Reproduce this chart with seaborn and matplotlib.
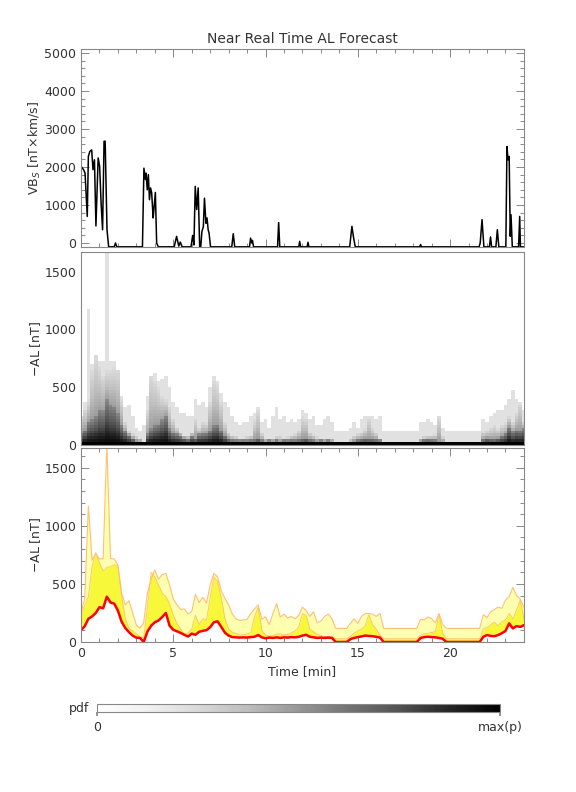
import numpy as np
import pandas as pd
import matplotlib
matplotlib.use("Agg")
import matplotlib.pyplot as plt
import seaborn as sns
from matplotlib.ticker import MultipleLocator, FixedLocator

# ---- panel 1: VBs solar wind driver (clipped at the bottom of the axis) ----
vbs_time = [0.0, 0.14, 0.22, 0.34, 0.40, 0.48, 0.58, 0.65, 0.73, 0.81, 0.93, 1.01,
            1.09, 1.17, 1.25, 1.31, 1.41, 1.50, 1.80, 1.87, 1.94,
            3.33, 3.41, 3.49, 3.53, 3.59, 3.65, 3.71, 3.77, 3.83, 3.91, 3.95, 4.03, 4.10, 4.19,
            5.05, 5.18, 5.30, 5.38, 5.48,
            5.96, 6.05, 6.12, 6.19, 6.27, 6.35, 6.43,
            6.49, 6.55, 6.63, 6.69, 6.77, 6.83, 6.89, 6.94, 7.02,
            8.17, 8.25, 8.33, 9.13, 9.19, 9.25, 9.29, 9.35,
            10.65, 10.71, 10.77, 11.80, 11.85, 11.90, 12.25, 12.30, 12.35,
            14.56, 14.68, 14.76, 14.86, 18.35, 18.40, 18.45,
            21.57, 21.63, 21.73, 21.83, 22.13, 22.19, 22.25, 22.48, 22.56, 22.64,
            23.02, 23.08, 23.14, 23.20, 23.26, 23.30, 23.37, 23.71, 23.77, 23.81, 24.0]
vbs_value = [2020, 1930, 1840, 700, 2280, 2410, 2450, 1930, 2190, 450, 2240, 2020,
             1050, 350, 2680, 2680, 350, -100, -100, 0, -100,
             -100, 1970, 1670, 1840, 1400, 1800, 1140, 1450, 1320, 660, 880, 1330, 0, -100,
             -100, 175, -80, 25, -100,
             -100, 200, -50, 1490, 880, 1450, -100,
             -100, 300, 430, 1180, 520, 660, 350, 260, -100,
             -100, 245, -100, -100, 130, 0, 70, -100,
             -100, 540, -100, -100, 45, -100, -100, 20, -100,
             -100, 440, 170, -100, -100, -40, -100,
             -100, 0, 615, -100, -100, 160, -100, -100, 350, -100,
             -100, 2540, 2190, 2280, 175, 745, -100, -100, 700, -100, -100]

# ---- panels 2/3: ensemble forecast of -AL, one value every 0.2 min ----
time = np.round(np.arange(121) * 0.2, 1)
al_red = [103, 135, 200, 220, 250, 300, 290, 390, 340, 330, 270, 175, 120, 85, 55, 37, 35, 0,
          90, 140, 170, 185, 215, 250, 140, 105, 92, 78, 62, 47, 72, 62, 88, 96, 102, 128,
          170, 178, 130, 80, 55, 42, 40, 38, 40, 38, 42, 45, 60, 40, 32, 38, 35, 40, 35, 40,
          38, 42, 40, 45, 55, 62, 45, 40, 35, 38, 35, 38, 35, 0, 0, 0, 0, 25, 35, 42, 48,
          55, 52, 50, 45, 38, 0, 0, 0, 0, 0, 0, 0, 0, 0, 0, 35, 42, 45, 42, 40, 35, 28,
          0, 0, 0, 0, 0, 0, 0, 0, 0, 0, 45, 60, 52, 50, 60, 75, 95, 160, 117, 137, 130, 145]
al_q75 = [250, 310, 390, 650, 770, 680, 610, 640, 650, 665, 655, 400, 200, 120, 95, 70, 45, 35,
          300, 600, 560, 490, 420, 390, 330, 230, 160, 110, 65, 80, 110, 230, 150, 200, 190, 380,
          560, 520, 380, 200, 110, 85, 72, 62, 62, 70, 80, 217, 300, 100, 58, 52, 55, 70, 70, 62,
          65, 80, 95, 130, 245, 230, 110, 88, 65, 55, 48, 45, 45, 28, 28, 28, 28, 50, 75, 95, 110,
          140, 235, 150, 110, 60, 28, 28, 28, 28, 28, 28, 28, 28, 28, 28, 60, 70, 75, 82, 90, 240, 70,
          28, 28, 28, 28, 28, 28, 28, 28, 28, 28, 115, 125, 150, 170, 140, 175, 190, 245, 200, 275, 360, 200]
al_qhi = [260, 370, 1170, 705, 760, 715, 717, 1700, 717, 715, 660, 420, 320, 355, 250, 145, 120, 170,
          420, 540, 620, 540, 580, 590, 490, 370, 320, 280, 285, 240, 260, 410, 340, 385, 335, 490,
          590, 560, 440, 375, 320, 240, 200, 185, 190, 195, 245, 285, 320, 195, 217, 150, 245, 330, 215, 240,
          205, 220, 200, 230, 300, 270, 220, 260, 165, 180, 220, 240, 200, 117, 117, 117, 117, 160, 200, 160, 220,
          245, 245, 240, 220, 245, 117, 117, 117, 117, 117, 117, 117, 117, 117, 117, 195, 190, 215, 200, 165, 245, 150,
          117, 117, 117, 117, 117, 117, 117, 117, 117, 117, 235, 210, 260, 280, 300, 290, 360, 390, 470, 400, 370, 300]

red = np.array(al_red, float)
q75 = np.array(al_q75, float)
qhi = np.array(al_qhi, float)

# pdf image shaded from the ensemble bands (25 nT bins): darkest near the
# ground, fading through the inner band, faint in the outer band
dbin = 25
edges = np.arange(0, 1700, dbin)
c = (edges[:-1] + dbin / 2)[:, None]
r, m, h = red[None, :], q75[None, :], qhi[None, :]
pdf = np.where(c < r, 1.0 - 0.45 * c / np.maximum(r, 1), 0.0)
pdf = np.where((c >= r) & (c < m), 0.48 - 0.24 * (c - r) / np.maximum(m - r, 1), pdf)
pdf = np.where((c >= m) & (c < h), 0.21, pdf)
pdf[0, :] = 1.0
pdf_df = pd.DataFrame(pdf, index=edges[:-1], columns=time)

sns.set_theme(style="white")
plt.rcParams["font.family"] = ["DejaVu Sans"]
plt.rcParams["mathtext.fontset"] = "dejavusans"

GRAY = "#888888"
TXT = "#333333"

fig = plt.figure(figsize=(5.76, 7.92), dpi=100)
ax1 = fig.add_axes([0.1406, 0.6881, 0.769, 0.2500])
ax2 = fig.add_axes([0.1406, 0.4381, 0.769, 0.2437])
ax3 = fig.add_axes([0.1406, 0.1894, 0.769, 0.2450])
cax = fig.add_axes([0.1684, 0.1010, 0.6997, 0.0101])


def style(ax):
    for s in ax.spines.values():
        s.set_visible(True)
        s.set_color(GRAY)
        s.set_linewidth(0.8)
    ax.tick_params(which="both", direction="in", top=True, right=True, bottom=True, left=True,
                   color=GRAY, labelcolor=TXT, labelsize=9, width=0.7)
    ax.tick_params(which="major", length=6)
    ax.tick_params(which="minor", length=3)


# Panel 1
sns.lineplot(x=vbs_time, y=vbs_value, ax=ax1, color="black", lw=1.1, estimator=None, sort=False)
ax1.set_xlim(0, 24)
ax1.set_ylim(-105, 5105)
ax1.yaxis.set_major_locator(MultipleLocator(1000))
ax1.yaxis.set_minor_locator(MultipleLocator(200))
ax1.xaxis.set_major_locator(MultipleLocator(5))
ax1.xaxis.set_minor_locator(MultipleLocator(1))
ax1.set_xticklabels([])
ax1.set_ylabel(r"VB$_S$ [nT$\times$km/s]", color=TXT, fontsize=9)
ax1.set_title("Near Real Time AL Forecast", color=TXT, fontsize=10, pad=4)
style(ax1)

# Panel 2: pdf heatmap (index space: column i -> time[i], row j -> j*25 nT)
sns.heatmap(pdf_df, ax=ax2, cmap="Greys", vmin=0, vmax=1, cbar_ax=cax,
            cbar_kws={"orientation": "horizontal", "ticks": [0, 1]},
            xticklabels=False, yticklabels=False)
ax2.set_xlim(0.5, 120.5)
ax2.set_ylim(0, 1670 / dbin)
ax2.yaxis.set_major_locator(FixedLocator(np.array([0, 500, 1000, 1500]) / dbin))
ax2.yaxis.set_minor_locator(FixedLocator(np.arange(0, 1700, 100) / dbin))
ax2.set_yticklabels(["0", "500", "1000", "1500"], rotation=0)
ax2.xaxis.set_major_locator(FixedLocator(np.arange(0, 25, 5) / 0.2 + 0.5))
ax2.xaxis.set_minor_locator(FixedLocator(np.arange(0, 25, 1) / 0.2 + 0.5))
ax2.set_xticklabels([])
ax2.set_xlabel("")
ax2.set_ylabel("$-$AL [nT]", color=TXT, fontsize=9)
style(ax2)

# Panel 3: forecast bands
ax3.fill_between(time, red, qhi, color="#FFFFB0", lw=0)
ax3.fill_between(time, red, q75, color="#F8F83A", lw=0)
sns.lineplot(x=time, y=qhi, ax=ax3, color="#FFC070", lw=0.8)
sns.lineplot(x=time, y=q75, ax=ax3, color="#FFC070", lw=0.6)
sns.lineplot(x=time, y=red, ax=ax3, color="red", lw=1.8)
ax3.set_xlim(0, 24)
ax3.set_ylim(0, 1670)
ax3.yaxis.set_major_locator(MultipleLocator(500))
ax3.yaxis.set_minor_locator(MultipleLocator(100))
ax3.xaxis.set_major_locator(MultipleLocator(5))
ax3.xaxis.set_minor_locator(MultipleLocator(1))
ax3.set_xlabel("Time [min]", color=TXT, fontsize=9)
ax3.set_ylabel("$-$AL [nT]", color=TXT, fontsize=9)
style(ax3)

for ax in (ax1, ax2, ax3):
    ax.yaxis.set_label_coords(-0.085, 0.5)

# colour bar
cbar = ax2.collections[0].colorbar
cbar.set_ticklabels(["0", "max(p)"])
cbar.outline.set_edgecolor(GRAY)
cbar.outline.set_linewidth(0.8)
cax.tick_params(length=3, color=GRAY, labelcolor=TXT, labelsize=9)
cax.text(-0.02, 0.5, "pdf", ha="right", va="center", color=TXT, fontsize=9,
         transform=cax.transAxes)

fig.savefig("out.png", dpi=100)
